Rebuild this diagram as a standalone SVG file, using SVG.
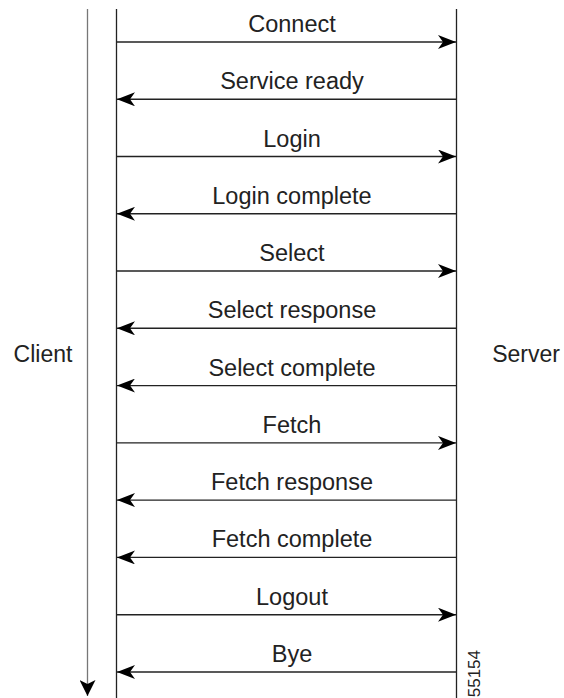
<svg xmlns="http://www.w3.org/2000/svg" width="564" height="698" viewBox="0 0 564 698">
<defs>
<style>
.lbl{font-family:"Liberation Sans",Arial,sans-serif;font-size:23.5px;fill:#222;text-anchor:middle}
.msg{stroke:#222;stroke-width:1.4;fill:none}
.life{stroke:#222;stroke-width:1.3;fill:none}
</style>
<marker id="ah" viewBox="0 0 18 14" refX="18" refY="7" markerWidth="18" markerHeight="14" markerUnits="userSpaceOnUse" orient="auto">
<path d="M0,0 L18,7 L0,14 L5,7 Z" fill="#000"/>
</marker>
<marker id="ahg" viewBox="0 0 16 16" refX="16" refY="8" markerWidth="16" markerHeight="16" markerUnits="userSpaceOnUse" orient="auto">
<path d="M0,0 L16,8 L0,16 L4,8 Z" fill="#000"/>
</marker>
</defs>
<rect width="564" height="698" fill="#fff"/>
<g id="client">
<line x1="87.5" y1="9" x2="87.5" y2="696" stroke="#777" stroke-width="1.3" marker-end="url(#ahg)"/>
<line class="life" x1="116.5" y1="9" x2="116.5" y2="698"/>
<text class="lbl" x="43" y="362" style="font-size:23px">Client</text>
</g>
<g id="server">
<line class="life" x1="456.5" y1="9" x2="456.5" y2="698"/>
<text class="lbl" x="526" y="362" style="font-size:23px">Server</text>
</g>
<g id="connectors">
<line class="msg" x1="117" y1="42" x2="456" y2="42" marker-end="url(#ah)"/>
<line class="msg" x1="456" y1="99.3" x2="117" y2="99.3" marker-end="url(#ah)"/>
<line class="msg" x1="117" y1="156.5" x2="456" y2="156.5" marker-end="url(#ah)"/>
<line class="msg" x1="456" y1="213.8" x2="117" y2="213.8" marker-end="url(#ah)"/>
<line class="msg" x1="117" y1="271" x2="456" y2="271" marker-end="url(#ah)"/>
<line class="msg" x1="456" y1="328.3" x2="117" y2="328.3" marker-end="url(#ah)"/>
<line class="msg" x1="456" y1="385.6" x2="117" y2="385.6" marker-end="url(#ah)"/>
<line class="msg" x1="117" y1="442.9" x2="456" y2="442.9" marker-end="url(#ah)"/>
<line class="msg" x1="456" y1="500.1" x2="117" y2="500.1" marker-end="url(#ah)"/>
<line class="msg" x1="456" y1="557.4" x2="117" y2="557.4" marker-end="url(#ah)"/>
<line class="msg" x1="117" y1="614.7" x2="456" y2="614.7" marker-end="url(#ah)"/>
<line class="msg" x1="456" y1="672" x2="117" y2="672" marker-end="url(#ah)"/>
</g>
<g id="labels">
<text class="lbl" x="292" y="32">Connect</text>
<text class="lbl" x="292" y="89.3">Service ready</text>
<text class="lbl" x="292" y="146.5">Login</text>
<text class="lbl" x="292" y="203.8">Login complete</text>
<text class="lbl" x="292" y="261">Select</text>
<text class="lbl" x="292" y="318.3">Select response</text>
<text class="lbl" x="292" y="375.6">Select complete</text>
<text class="lbl" x="292" y="432.9">Fetch</text>
<text class="lbl" x="292" y="490.1">Fetch response</text>
<text class="lbl" x="292" y="547.4">Fetch complete</text>
<text class="lbl" x="292" y="604.7">Logout</text>
<text class="lbl" x="292" y="662">Bye</text>
</g>
<text transform="translate(480,650) rotate(-90)" font-family="Liberation Sans,Arial,sans-serif" font-size="17" fill="#222" text-anchor="end">55154</text>
</svg>
